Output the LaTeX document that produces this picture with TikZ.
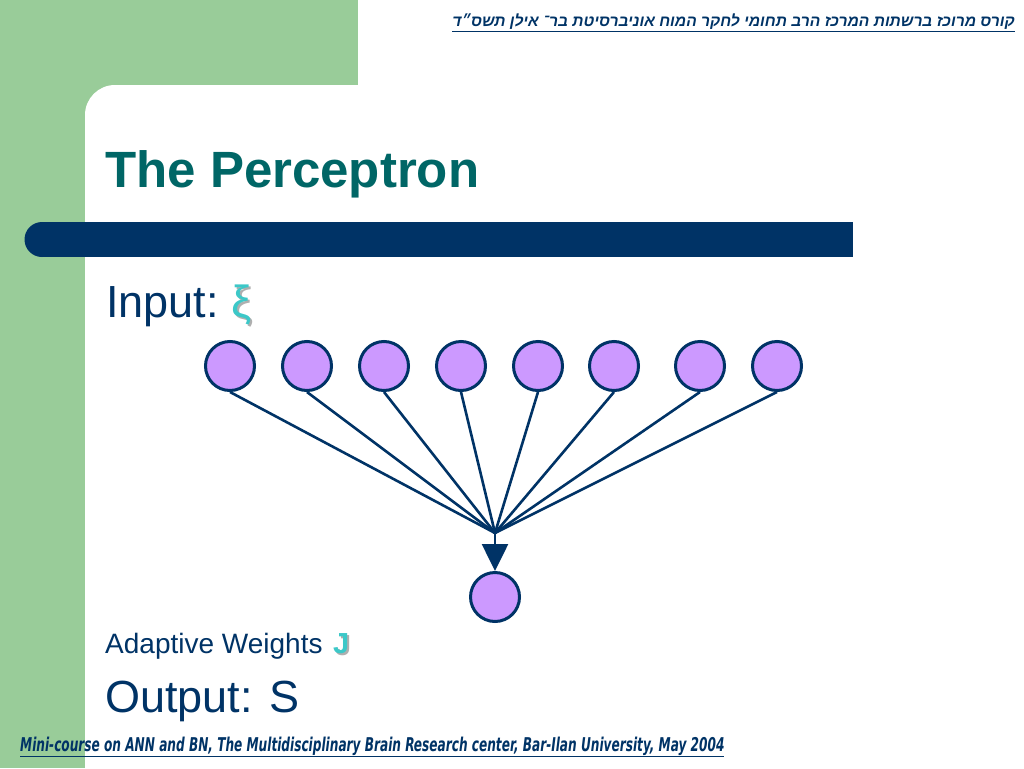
\documentclass[tikz,border=0pt]{standalone}
\usepackage{fontspec}
\setmainfont{Liberation Sans}
\newfontfamily\hebfont[Script=Hebrew]{Liberation Sans}
\newfontfamily\footfont[FakeStretch=0.71]{DejaVu Sans Condensed}
\TeXXeTstate=1
\usetikzlibrary{arrows.meta,positioning}
\definecolor{xgreen}{RGB}{153,204,153}
\definecolor{xnavy}{RGB}{0,51,102}
\definecolor{xteal}{RGB}{0,102,102}
\definecolor{xviolet}{RGB}{204,153,255}
\definecolor{xcyan}{RGB}{60,200,200}
\definecolor{xshade}{RGB}{175,175,175}
\newcommand{\shaded}[1]{\rlap{\kern2pt\raisebox{-2pt}{\color{xshade}#1}}#1}

\begin{document}
\begin{tikzpicture}[x=1pt,y=-1pt,>={Triangle[width=26pt,length=27pt]}]
\tikzset{unit/.style={circle,fill=xviolet,draw=xnavy,line width=3pt,minimum size=49pt,inner sep=0pt}}
\tikzset{wire/.style={draw=xnavy,line width=2.6pt}}
\tikzset{txt/.style={inner sep=0pt,anchor=base west,text=xnavy}}
\useasboundingbox (0,0) rectangle (1024,768);
\clip (0,0) rectangle (1024,768);
% slide background
\fill[xgreen] (0,0) rectangle (358,85);
\fill[xgreen] (0,0) rectangle (85,768);
\fill[xgreen] (0,0) rectangle (130,130);
\fill[white,rounded corners=30pt] (85,85) rectangle (1200,900);
\fill[xnavy] (42,222) rectangle (853,257);
\fill[xnavy] (42,239.5) circle (17.5);
% header and footer
\node[inner sep=0pt,anchor=base east,text=xnavy,font=\hebfont\bfseries\itshape\fontsize{15.6}{18}\selectfont] at (1015,27) (hdr) {\underline{\beginR קורס מרוכז ברשתות המרכז הרב תחומי לחקר המוח אוניברסיטת בר־ אילן תשס״ד\endR}};
\node[txt,font=\footfont\bfseries\itshape\fontsize{19}{22}\selectfont] at (20,751) (foot) {\underline{Mini-course on ANN and BN, The Multidisciplinary Brain Research center, Bar-Ilan University, May 2004}};
% texts
\node[txt,text=xteal,font=\bfseries\fontsize{51}{60}\selectfont] at (105,187) (title) {The Perceptron};
\node[txt,font=\fontsize{45}{54}\selectfont] at (106,317) (inp) {Input:};
\node[txt,text=xcyan,font=\fontsize{45}{54}\selectfont] at (231,317) (xi) {\shaded{ξ}};
\node[txt,font=\fontsize{28}{34}\selectfont] at (105,653) (adw) {Adaptive Weights};
\node[txt,text=xcyan,font=\bfseries\fontsize{29}{35}\selectfont] at (333,653) (jw) {\shaded{J}};
\node[txt,font=\fontsize{45}{54}\selectfont] at (105,712) (outp) {Output: S};
% units
\node[unit] at (230,366) (in1) {};
\node[unit] at (307,366) (in2) {};
\node[unit] at (384,366) (in3) {};
\node[unit] at (461,366) (in4) {};
\node[unit] at (538,366) (in5) {};
\node[unit] at (614,366) (in6) {};
\node[unit] at (700,366) (in7) {};
\node[unit] at (777,366) (in8) {};
\node[unit] at (495,597) (out) {};
\coordinate (sum) at (495,533);
\draw[wire] (in1.south) -- (sum);
\draw[wire] (in2.south) -- (sum);
\draw[wire] (in3.south) -- (sum);
\draw[wire] (in4.south) -- (sum);
\draw[wire] (in5.south) -- (sum);
\draw[wire] (in6.south) -- (sum);
\draw[wire] (in7.south) -- (sum);
\draw[wire] (in8.south) -- (sum);
\draw[wire,->,fill=xnavy] (sum) -- (out.north);
\end{tikzpicture}
\end{document}
